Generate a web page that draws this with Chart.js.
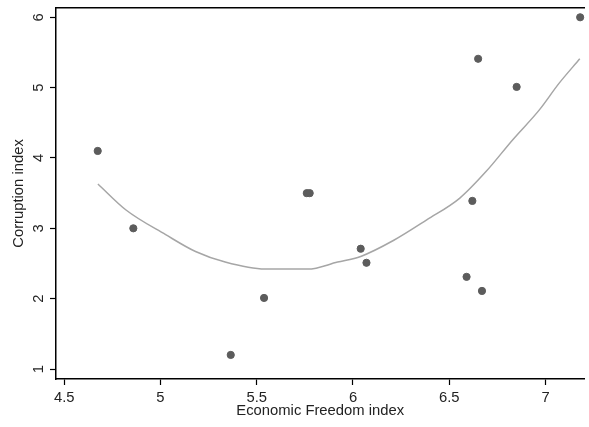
<!DOCTYPE html>
<html>
<head>
<meta charset="utf-8">
<script src="https://cdn.jsdelivr.net/npm/chart.js@4"></script>
<style>
    body { margin: 0; background: #fff; }
    #myChart { display: block; }
</style>
</head>
<body>
<canvas id="myChart" width="589" height="427"></canvas>
<script>
// Datos
const freedom = [4.674, 4.859, 5.365, 5.538, 5.760, 5.775, 6.040, 6.070, 6.590, 6.620, 6.650, 6.670, 6.850, 7.180];
const corruption = [4.10, 3.00, 1.20, 2.01, 3.50, 3.50, 2.71, 2.51, 2.31, 3.39, 5.41, 2.11, 5.01, 6.00];

// Curva suavizada (lowess)
const fitX = [4.675, 4.821, 5.027, 5.182, 5.336, 5.542, 5.765, 5.920, 6.040, 6.212, 6.383, 6.555, 6.692, 6.830, 6.967, 7.070, 7.178];
const fitY = [3.63, 3.26, 2.91, 2.67, 2.52, 2.42, 2.42, 2.52, 2.60, 2.83, 3.12, 3.43, 3.81, 4.26, 4.68, 5.06, 5.41];

const xTicks = [4.5, 5, 5.5, 6, 6.5, 7];
const yTicks = [1, 2, 3, 4, 5, 6];

const xTitle = 'Economic Freedom index';
const yTitle = 'Corruption index';

let myChart;

function toPoints(xs, ys) {
    return xs.map((x, i) => ({ x: x, y: ys[i] }));
}

// quita el padding que Chart.js agrega por las etiquetas
function noPadding(axis) {
    axis.paddingTop = 0;
    axis.paddingBottom = 0;
    axis.paddingLeft = 0;
    axis.paddingRight = 0;
}

function buildChart() {
    const ctx = document.getElementById('myChart').getContext('2d');
    const font = { family: 'Liberation Sans', size: 14.8 };

    myChart = new Chart(ctx, {
        type: 'scatter',
        data: {
            datasets: [
                {
                    label: 'fit',
                    type: 'line',
                    data: toPoints(fitX, fitY),
                    borderColor: '#a6a6a6',
                    borderWidth: 1.5,
                    pointRadius: 0,
                    cubicInterpolationMode: 'monotone',
                    fill: false,
                    clip: false
                },
                {
                    label: 'data',
                    data: toPoints(freedom, corruption),
                    backgroundColor: '#5c5c5c',
                    borderColor: '#5c5c5c',
                    pointRadius: 3.6,
                    pointHoverRadius: 3.6,
                    clip: false
                }
            ]
        },
        options: {
            responsive: false,
            animation: false,
            layout: { padding: { left: 0, top: 0, bottom: 0, right: -5 } },
            plugins: {
                legend: { display: false },
                tooltip: { enabled: false }
            },
            scales: {
                x: {
                    type: 'linear',
                    position: 'bottom',
                    min: 4.4573,
                    max: 7.202,
                    afterBuildTicks: axis => { axis.ticks = xTicks.map(v => ({ value: v })); },
                    afterFit: axis => { axis.height = 48; noPadding(axis); },
                    grid: { drawOnChartArea: false, drawTicks: true, tickLength: 6, tickColor: '#000', tickWidth: 1.2 },
                    border: { display: true, color: '#000', width: 1.5 },
                    ticks: { color: '#222', font: font, padding: 4, maxRotation: 0, callback: v => String(v) },
                    title: { display: true, text: xTitle, color: '#222', font: font, padding: { top: 0, bottom: 7 } }
                },
                xTop: {
                    type: 'linear',
                    position: 'top',
                    min: 0,
                    max: 1,
                    afterFit: axis => { axis.height = 8; noPadding(axis); },
                    grid: { display: false },
                    border: { display: true, color: '#000', width: 1.5 },
                    ticks: { display: false }
                },
                y: {
                    type: 'linear',
                    position: 'left',
                    min: 0.858,
                    max: 6.132,
                    afterBuildTicks: axis => { axis.ticks = yTicks.map(v => ({ value: v })); },
                    afterFit: axis => { axis.width = 56; noPadding(axis); },
                    grid: { drawOnChartArea: false, drawTicks: true, tickLength: 6, tickColor: '#000', tickWidth: 1.2 },
                    border: { display: true, color: '#000', width: 1.5 },
                    ticks: { color: '#222', font: font, padding: 7, minRotation: 90, maxRotation: 90, crossAlign: 'center', callback: v => String(v) },
                    title: { display: true, text: yTitle, color: '#222', font: font, padding: { top: 10, bottom: 0 } }
                }
            }
        }
    });
}

buildChart();
</script>
</body>
</html>
